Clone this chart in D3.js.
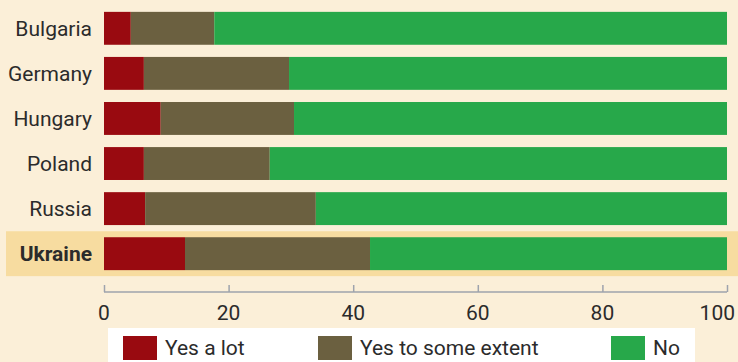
<!DOCTYPE html>
<html lang="en">
<head>
<meta charset="utf-8">
<title>Survey chart</title>
<script src="https://cdn.jsdelivr.net/npm/d3@7"></script>
<style>
  body { margin: 0; background: #fbefd8; }
  svg { display: block; font-family: Roboto, "Open Sans", sans-serif; }
</style>
</head>
<body>
<svg id="chart" width="738" height="362"></svg>
<script>
// data
var countries = ["Bulgaria", "Germany", "Hungary", "Poland", "Russia", "Ukraine"];
var yesALot = [4.3, 6.4, 9.1, 6.4, 6.6, 13.0];
var yesSome = [13.4, 23.3, 21.4, 20.2, 27.4, 29.7];
var seriesNames = ["Yes a lot", "Yes to some extent", "No"];
var xTicks = [0, 20, 40, 60, 80, 100];
var highlight = "Ukraine";

var colors = ["#990a10", "#6b6040", "#27a84a"];

var svg = d3.select("#chart");

var x = d3.scaleLinear().domain([0, 100]).range([104, 727]);
var y = d3.scaleBand().domain(countries).range([6, 276]).paddingInner(0.27).paddingOuter(0.13);

var rows = countries.map(function(c, i) {
  return { country: c, a: yesALot[i], b: yesSome[i], c: 100 - yesALot[i] - yesSome[i] };
});
var stacked = d3.stack().keys(["a", "b", "c"])(rows);

// highlight band behind Ukraine
svg.append("rect")
  .attr("x", 6).attr("width", 732)
  .attr("y", y(highlight) - 6).attr("height", y.bandwidth() + 12)
  .attr("fill", "#f7dca0");

svg.append("g").selectAll("g")
  .data(stacked).join("g")
  .attr("fill", function(d, i) { return colors[i]; })
  .selectAll("rect")
  .data(function(d) { return d; }).join("rect")
  .attr("x", function(d) { return x(d[0]); })
  .attr("width", function(d) { return x(d[1]) - x(d[0]); })
  .attr("y", function(d) { return y(d.data.country); })
  .attr("height", y.bandwidth());

// country labels
svg.append("g").selectAll("text")
  .data(countries).join("text")
  .attr("x", 92)
  .attr("y", function(d) { return y(d) + y.bandwidth() / 2; })
  .attr("dy", "0.35em")
  .attr("text-anchor", "end")
  .attr("font-size", 21)
  .attr("font-weight", function(d) { return d === highlight ? "bold" : "normal"; })
  .attr("fill", "#2b2b2b")
  .text(function(d) { return d; });

// x axis
var axis = svg.append("g").attr("transform", "translate(0,292)")
  .call(d3.axisTop(x).tickValues(xTicks).tickSize(7).tickFormat(""));
axis.select(".domain").attr("stroke", "#9ea3ad").attr("stroke-width", 1.5).attr("d", "M" + x(0) + ",0H" + x(100));
axis.selectAll(".tick line").attr("stroke", "#9ea3ad").attr("stroke-width", 1.5);

svg.append("g").selectAll("text")
  .data(xTicks).join("text")
  .attr("x", function(d) { return d === 100 ? 735 : x(d); })
  .attr("y", 320)
  .attr("text-anchor", function(d) { return d === 100 ? "end" : "middle"; })
  .attr("font-size", 21)
  .attr("fill", "#2b2b2b")
  .text(function(d) { return d; });

// legend
svg.append("rect").attr("x", 108).attr("y", 328).attr("width", 587).attr("height", 34).attr("fill", "#ffffff");
var legendX = [123, 318, 611];
var lg = svg.append("g").selectAll("g")
  .data(seriesNames).join("g")
  .attr("transform", function(d, i) { return "translate(" + legendX[i] + ",336)"; });
lg.append("rect").attr("width", 34).attr("height", 24).attr("fill", function(d, i) { return colors[i]; });
lg.append("text").attr("x", 42).attr("y", 12).attr("dy", "0.35em")
  .attr("font-size", 21).attr("fill", "#2b2b2b")
  .text(function(d) { return d; });
</script>
</body>
</html>
